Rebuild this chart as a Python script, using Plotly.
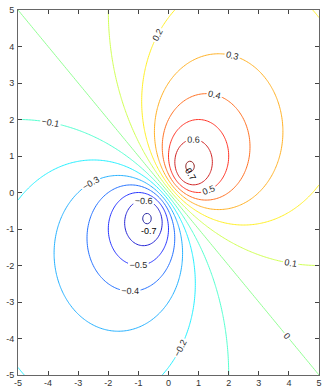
import numpy as np
import plotly.graph_objects as go

# grid coordinates (axis range -5..5)
x_vals = np.linspace(-5, 5, 201)
y_vals = np.linspace(-5, 5, 201)
# surface shown: z = (x + y) / (x^2 + y^2 + 1)
X, Y = np.meshgrid(x_vals, y_vals)
Z = (X + Y) / (X**2 + Y**2 + 1)

level_start = -0.7
level_end = 0.7
level_step = 0.1
tick_vals = [-5, -4, -3, -2, -1, 0, 1, 2, 3, 4, 5]
tick_text = ["-5", "-4", "-3", "-2", "-1", "0", "1", "2", "3", "4", "5"]
# labels for the two tiny extreme loops (too small for automatic labels)
extreme_labels = ["0.7", "-0.7"]

jet = [
    [0.0, "rgb(0,0,143)"],
    [0.125, "rgb(0,0,255)"],
    [0.375, "rgb(0,255,255)"],
    [0.625, "rgb(255,255,0)"],
    [0.875, "rgb(255,0,0)"],
    [1.0, "rgb(128,0,0)"],
]

zmax = float(np.max(Z))
zmin = float(np.min(Z))

fig = go.Figure(
    go.Contour(
        x=x_vals, y=y_vals, z=Z,
        colorscale=jet, zmin=zmin, zmax=zmax,
        showscale=False,
        contours=dict(start=level_start, end=level_end + 1e-9, size=level_step,
                      coloring="lines", showlabels=True,
                      labelfont=dict(size=9, color="black", family="Liberation Sans"),
                      labelformat=".1~f"),
        line=dict(width=1),
        opacity=0.85,
        hoverinfo="skip",
    )
)

fig.add_annotation(x=0.72, y=0.5, text=extreme_labels[0], showarrow=False,
                   textangle=60, font=dict(size=9, color="black", family="Liberation Sans"))
fig.add_annotation(x=-0.66, y=-1.05, text=extreme_labels[1], showarrow=False,
                   font=dict(size=9, color="black", family="Liberation Sans"))

axis_common = dict(
    range=[-5, 5], tickvals=tick_vals, ticktext=tick_text, ticks="inside", ticklen=4,
    tickcolor="#444", showline=True, linecolor="#666", linewidth=1,
    mirror="allticks", showgrid=False, zeroline=False,
    tickfont=dict(size=9, color="#333", family="Liberation Sans"),
)
fig.update_xaxes(**axis_common, ticklabelstandoff=-1)
fig.update_yaxes(**axis_common, ticklabelstandoff=1)
fig.update_layout(
    width=324, height=390,
    margin=dict(l=18, r=2, t=10, b=11),
    plot_bgcolor="white", paper_bgcolor="white",
    showlegend=False,
)
fig.write_html("out.html", config={"displayModeBar": False},
               post_script="document.body.style.margin='0';")
